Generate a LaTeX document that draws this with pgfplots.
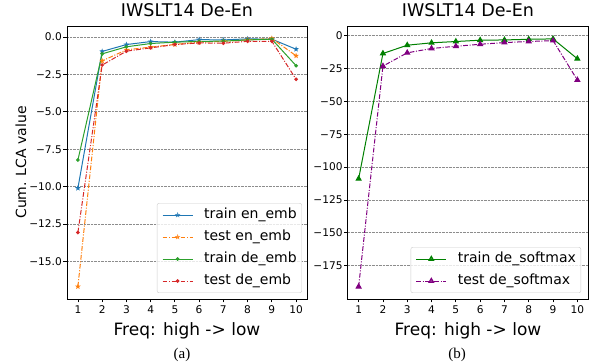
\documentclass[border=0pt]{standalone}
\usepackage{fontspec}
\setmainfont{DejaVu Sans}
\newfontfamily\capfont{Liberation Serif}
\usepackage{pgfplots}
\pgfplotsset{compat=1.18}
\definecolor{tabblue}{HTML}{1F77B4}
\definecolor{taborange}{HTML}{FF7F0E}
\definecolor{tabgreen}{HTML}{2CA02C}
\definecolor{tabred}{HTML}{D62728}
\definecolor{mgreen}{HTML}{008000}
\definecolor{mpurple}{HTML}{800080}
\pgfdeclareplotmark{fstar}{%
  \pgfpathmoveto{\pgfpointpolar{90}{\pgfplotmarksize}}%
  \pgfpathlineto{\pgfpointpolar{126}{0.42\pgfplotmarksize}}%
  \pgfpathlineto{\pgfpointpolar{162}{\pgfplotmarksize}}%
  \pgfpathlineto{\pgfpointpolar{198}{0.42\pgfplotmarksize}}%
  \pgfpathlineto{\pgfpointpolar{234}{\pgfplotmarksize}}%
  \pgfpathlineto{\pgfpointpolar{270}{0.42\pgfplotmarksize}}%
  \pgfpathlineto{\pgfpointpolar{306}{\pgfplotmarksize}}%
  \pgfpathlineto{\pgfpointpolar{342}{0.42\pgfplotmarksize}}%
  \pgfpathlineto{\pgfpointpolar{18}{\pgfplotmarksize}}%
  \pgfpathlineto{\pgfpointpolar{54}{0.42\pgfplotmarksize}}%
  \pgfpathclose
  \pgfusepathqfill}
\pgfplotsset{
  myaxis/.style={
    scale only axis, width=240pt, height=273pt, anchor=north west,
    xmin=0.55, xmax=10.45, xtick={1,2,3,4,5,6,7,8,9,10},
    xticklabels={1,2,3,4,5,6,7,8,9,10},
    tick align=outside, xtick pos=bottom, ytick pos=left,
    major tick length=3.5pt,
    ymajorgrids, grid style={densely dotted, black!45, line width=0.8pt},
    axis line style={line width=0.8pt},
    every tick/.style={black, line width=0.8pt},
    ticklabel style={font=\fontsize{10.6}{12}\selectfont},
    yticklabel style={inner sep=1.5pt},
    title style={at={(axis description cs:0.5,1.012)}, anchor=base, font=\fontsize{17.5}{20}\selectfont},
    xlabel style={at={(axis description cs:0.5,-0.1355)}, anchor=base, font=\fontsize{17}{20}\selectfont},
    ylabel style={at={(axis description cs:-0.192,0.5)}, anchor=center, font=\fontsize{14}{16}\selectfont},
    legend cell align=left,
    legend image code/.code={\draw[mark repeat=2,mark phase=2] plot coordinates {(0pt,0pt) (15pt,0pt) (30pt,0pt)};},
    legend style={font=\fontsize{14}{16}\selectfont, draw=black!20, rounded corners=2pt,
      fill=white, fill opacity=0.8, text opacity=1, draw opacity=1,
      inner xsep=5pt, inner ysep=5pt, row sep=8.5pt,
      nodes={inner sep=0pt, text height=10.5pt, text depth=3pt},
      /tikz/every odd column/.style={column sep=11pt}},
  },
  dashdot/.style={dash pattern=on 4.8pt off 1.6pt on 1pt off 1.6pt},
}
\begin{document}
\begin{tikzpicture}
\path[use as bounding box] (0pt,0pt) rectangle (592pt,-363pt);
\begin{axis}[myaxis, at={(67pt,-26pt)},
  ymin=-17.5, ymax=0.73,
  ytick={-15,-12.5,-10,-7.5,-5,-2.5,0},
  yticklabels={−15.0,−12.5,−10.0,−7.5,−5.0,−2.5,0.0},
  title={IWSLT14 De-En}, xlabel={Freq: high -> low}, ylabel={Cum. LCA value},
  legend style={at={(0.979,0.022)}, anchor=south east}]
\addplot[tabblue, line width=1pt, mark=fstar, mark size=3pt] coordinates {
 (1,-10.1) (2,-0.97) (3,-0.51) (4,-0.31) (5,-0.35) (6,-0.18) (7,-0.2) (8,-0.13) (9,-0.15) (10,-0.82)};
\addlegendentry{train en\_emb}
\addplot[taborange, line width=1pt, dashdot, mark=fstar, mark size=3pt, mark options={solid}] coordinates {
 (1,-16.67) (2,-1.6) (3,-0.86) (4,-0.68) (5,-0.5) (6,-0.35) (7,-0.3) (8,-0.2) (9,-0.1) (10,-1.26)};
\addlegendentry{test en\_emb}
\addplot[tabgreen, line width=1pt, mark=*, mark size=1.3pt] coordinates {
 (1,-8.22) (2,-1.13) (3,-0.66) (4,-0.44) (5,-0.35) (6,-0.3) (7,-0.28) (8,-0.2) (9,-0.15) (10,-1.92)};
\addlegendentry{train de\_emb}
\addplot[tabred, line width=1pt, dashdot, mark=*, mark size=1.3pt, mark options={solid}] coordinates {
 (1,-13.06) (2,-1.88) (3,-0.95) (4,-0.73) (5,-0.51) (6,-0.4) (7,-0.42) (8,-0.29) (9,-0.29) (10,-2.83)};
\addlegendentry{test de\_emb}
\end{axis}
\begin{axis}[myaxis, at={(347.7pt,-26pt)}, width=240.6pt,
  ymin=-200.3, ymax=7.3,
  ytick={-175,-150,-125,-100,-75,-50,-25,0},
  yticklabels={−175,−150,−125,−100,−75,−50,−25,0},
  title={IWSLT14 De-En}, xlabel={Freq: high -> low},
  legend style={at={(0.97,0.022)}, anchor=south east}]
\addplot[mgreen, line width=1pt, mark=triangle*, mark size=2.8pt] coordinates {
 (1,-108.9) (2,-13.6) (3,-7.3) (4,-5.5) (5,-4.5) (6,-3.5) (7,-3.3) (8,-2.8) (9,-2.5) (10,-17.6)};
\addlegendentry{train de\_softmax}
\addplot[mpurple, line width=1pt, dashdot, mark=triangle*, mark size=2.8pt, mark options={solid}] coordinates {
 (1,-190.9) (2,-23.2) (3,-13.1) (4,-9.8) (5,-8.1) (6,-6.6) (7,-5.3) (8,-4.5) (9,-3.8) (10,-33.8)};
\addlegendentry{test de\_softmax}
\end{axis}
\node[font=\capfont\fontsize{15}{17}\selectfont, anchor=base] at (182pt,-358.5pt) {(a)};
\node[font=\capfont\fontsize{15}{17}\selectfont, anchor=base] at (457pt,-358.5pt) {(b)};
\end{tikzpicture}
\end{document}
